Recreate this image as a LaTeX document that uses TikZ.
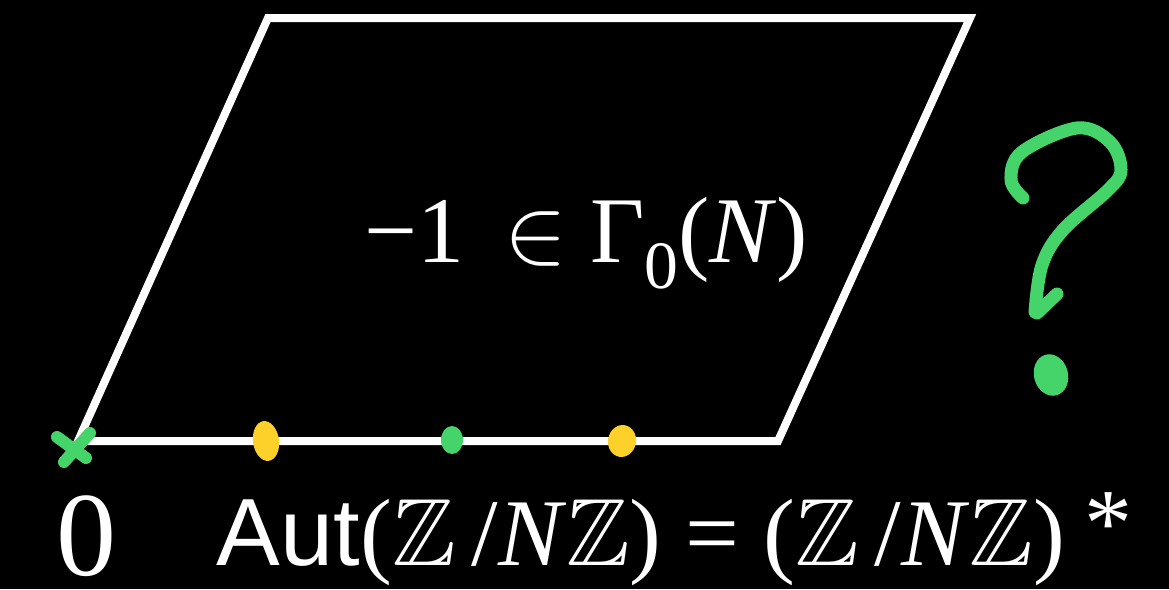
\documentclass[tikz,border=0pt]{standalone}
\usepackage{amssymb}
\usepackage{fontspec}
\setmainfont{Liberation Serif}
\newfontfamily\sansf{Liberation Sans}
\definecolor{qgreen}{HTML}{45D46A}
\definecolor{qyellow}{HTML}{FDD12A}
\begin{document}
\begin{tikzpicture}[x=1pt,y=-1pt,
  lbl/.style={text=white,inner sep=0pt,anchor=base west},
  edge/.style={draw=white,line width=8pt,line join=miter},
  pen/.style={draw=qgreen,line width=13pt,line cap=round,line join=round}]
\fill[black] (0,0) rectangle (1169,589);
\useasboundingbox (0,0) rectangle (1169,589);
% parallelogram
\coordinate (bl) at (78,441);
\coordinate (br) at (778,441);
\coordinate (tr) at (970,18);
\coordinate (tl) at (268,18);
\draw[edge] (bl) -- (br) -- (tr) -- (tl) -- cycle;
% marks on bottom edge
\fill[qyellow,rotate around={8:(266,441)}] (266,441) ellipse (13pt and 20pt);
\fill[qgreen] (452,440) ellipse (11pt and 14pt);
\fill[qyellow,rotate around={-10:(622,441)}] (622,441) ellipse (14pt and 16pt);
% cross at origin
\coordinate (c1) at (57,437);
\coordinate (c2) at (86,458);
\coordinate (c3) at (90,433);
\coordinate (c4) at (64,462);
\draw[draw=qgreen,line width=12pt,line cap=round] (c1) -- (c2);
\draw[draw=qgreen,line width=12pt,line cap=round] (c3) -- (c4);
% labels
\node[lbl,scale=9.4] (gam) at (363,262) {\fontsize{10}{12}\selectfont −1\, $\in$ Γ\raisebox{-0.28em}{\fontsize{7.2}{8}\selectfont 0}(\textit{N})};
\node[lbl,scale=12] (zero) at (54,575) {\fontsize{10}{12}\selectfont 0};
\node[lbl,scale=9.55] (aut) at (215,565) {\fontsize{10}{12}\selectfont {\sansf Aut}($\mathbb{Z}$\,/\textit{N}$\mathbb{Z}$) = ($\mathbb{Z}$\,/\textit{N}$\mathbb{Z}$)};
\node[text=white,inner sep=0pt,scale=9.6] (ast) at (1108,524) {\fontsize{10}{12}\selectfont *};
% question mark
\draw[pen] plot[smooth,tension=0.6] coordinates {(1023,198) (1011,180) (1022,152) (1077,128) (1110,142) (1121,170) (1108,190) (1063,230) (1042,265) (1035,312)};
\draw[pen] (1057,294) -- (1037,313);
\fill[qgreen,rotate around={15:(1051,375)}] (1051,375) ellipse (17pt and 21pt);
\end{tikzpicture}
\end{document}
